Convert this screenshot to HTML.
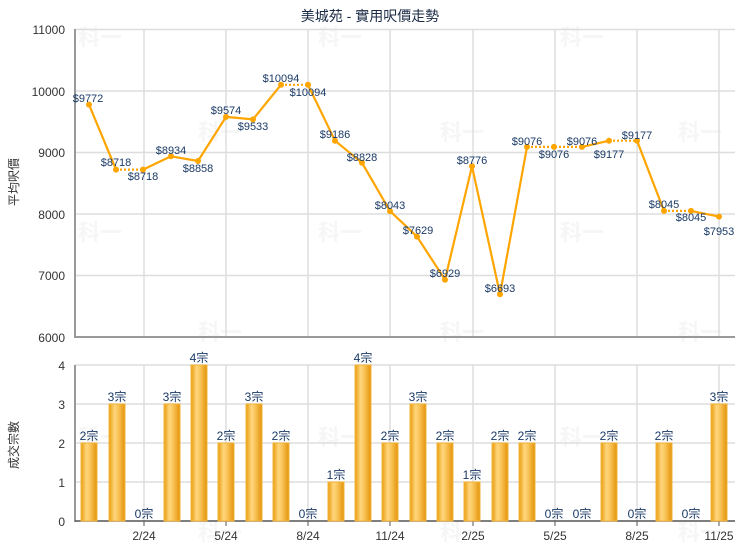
<!DOCTYPE html>
<html><head><meta charset="utf-8"><style>
body{margin:0;background:#fff}
svg{display:block;font-family:"Liberation Sans","Noto Sans CJK TC",sans-serif}
</style></head><body>
<svg width="740" height="550" viewBox="0 0 740 550" xmlns="http://www.w3.org/2000/svg">
<defs>
<linearGradient id="bg" x1="0" x2="1" y1="0" y2="0">
<stop offset="0" stop-color="#e99b0c"/>
<stop offset="0.35" stop-color="#ffd77e"/>
<stop offset="0.6" stop-color="#f8c254"/>
<stop offset="1" stop-color="#e3930a"/>
</linearGradient>
</defs>
<rect width="740" height="550" fill="#fff"/>
<text x="370" y="21" text-anchor="middle" font-size="14" fill="#1a2a45">美城苑 - 實用呎價走勢</text>
<!-- watermarks -->
<g font-size="22" font-weight="bold" fill="#f6f6f6" text-anchor="middle">
<text x="100" y="45">科一</text><text x="340" y="45">科一</text><text x="582" y="45">科一</text>
<text x="220" y="140">科一</text><text x="462" y="140">科一</text><text x="700" y="140">科一</text>
<text x="100" y="240">科一</text><text x="340" y="240">科一</text><text x="582" y="240">科一</text>
<text x="220" y="340">科一</text><text x="462" y="340">科一</text><text x="700" y="340">科一</text>
<text x="100" y="445">科一</text><text x="340" y="445">科一</text><text x="582" y="445">科一</text>
<text x="220" y="540">科一</text><text x="462" y="540">科一</text><text x="700" y="540">科一</text>
</g>
<!-- top grid -->
<g stroke="#dddddd" stroke-width="1.5">
<line x1="75" y1="29.5" x2="735" y2="29.5"/>
<line x1="75" y1="91" x2="735" y2="91"/>
<line x1="75" y1="152.5" x2="735" y2="152.5"/>
<line x1="75" y1="214" x2="735" y2="214"/>
<line x1="75" y1="275.5" x2="735" y2="275.5"/>
<line x1="144" y1="29" x2="144" y2="337"/>
<line x1="226" y1="29" x2="226" y2="337"/>
<line x1="308" y1="29" x2="308" y2="337"/>
<line x1="390" y1="29" x2="390" y2="337"/>
<line x1="473" y1="29" x2="473" y2="337"/>
<line x1="555" y1="29" x2="555" y2="337"/>
<line x1="637" y1="29" x2="637" y2="337"/>
<line x1="719" y1="29" x2="719" y2="337"/>
<line x1="144" y1="365" x2="144" y2="521"/>
<line x1="226" y1="365" x2="226" y2="521"/>
<line x1="308" y1="365" x2="308" y2="521"/>
<line x1="390" y1="365" x2="390" y2="521"/>
<line x1="473" y1="365" x2="473" y2="521"/>
<line x1="555" y1="365" x2="555" y2="521"/>
<line x1="637" y1="365" x2="637" y2="521"/>
<line x1="719" y1="365" x2="719" y2="521"/>
<line x1="75" y1="365" x2="735" y2="365"/>
<line x1="75" y1="404" x2="735" y2="404"/>
<line x1="75" y1="443" x2="735" y2="443"/>
<line x1="75" y1="482" x2="735" y2="482"/>
</g>
<g stroke="#999" stroke-width="2">
<line x1="75" y1="29" x2="75" y2="338"/>
<line x1="75" y1="337" x2="735" y2="337"/>
<line x1="75" y1="365" x2="75" y2="522"/>
</g>
<line x1="75" y1="521" x2="735" y2="521" stroke="#555" stroke-width="1.5"/>
<g stroke="#555" stroke-width="1">
<line x1="144" y1="521" x2="144" y2="526"/><line x1="226" y1="521" x2="226" y2="526"/>
<line x1="308" y1="521" x2="308" y2="526"/><line x1="390" y1="521" x2="390" y2="526"/>
<line x1="473" y1="521" x2="473" y2="526"/><line x1="555" y1="521" x2="555" y2="526"/>
<line x1="637" y1="521" x2="637" y2="526"/><line x1="719" y1="521" x2="719" y2="526"/>
</g>
<!-- y labels -->
<g font-size="12" fill="#333" text-anchor="end">
<text x="65" y="34">11000</text><text x="65" y="96">10000</text><text x="65" y="157">9000</text>
<text x="65" y="219">8000</text><text x="65" y="280">7000</text><text x="65" y="342">6000</text>
<text x="65" y="370">4</text><text x="65" y="409">3</text><text x="65" y="448">2</text>
<text x="65" y="487">1</text><text x="65" y="526">0</text>
</g>
<g font-size="12" fill="#333" text-anchor="middle">
<text x="144" y="540">2/24</text><text x="226" y="540">5/24</text><text x="308" y="540">8/24</text>
<text x="390" y="540">11/24</text><text x="473" y="540">2/25</text><text x="555" y="540">5/25</text>
<text x="637" y="540">8/25</text><text x="719" y="540">11/25</text>
</g>
<text transform="translate(18,182) rotate(-90)" font-size="12" fill="#333" text-anchor="middle">平均呎價</text>
<text transform="translate(18,445) rotate(-90)" font-size="12" fill="#333" text-anchor="middle">成交宗數</text>
<!-- bars -->
<g fill="url(#bg)" stroke="#f3b43a" stroke-width="1">
<rect x="81" y="443" width="16" height="78"/>
<rect x="109" y="404" width="16" height="117"/>
<rect x="164" y="404" width="16" height="117"/>
<rect x="191" y="365" width="16" height="156"/>
<rect x="218" y="443" width="16" height="78"/>
<rect x="246" y="404" width="16" height="117"/>
<rect x="273" y="443" width="16" height="78"/>
<rect x="328" y="482" width="16" height="39"/>
<rect x="355" y="365" width="16" height="156"/>
<rect x="382" y="443" width="16" height="78"/>
<rect x="410" y="404" width="16" height="117"/>
<rect x="437" y="443" width="16" height="78"/>
<rect x="464" y="482" width="16" height="39"/>
<rect x="492" y="443" width="16" height="78"/>
<rect x="519" y="443" width="16" height="78"/>
<rect x="601" y="443" width="16" height="78"/>
<rect x="656" y="443" width="16" height="78"/>
<rect x="711" y="404" width="16" height="117"/>
</g>
<g font-size="12" fill="#1a3a66" text-anchor="middle">
<text x="89" y="440">2宗</text><text x="117" y="401">3宗</text><text x="144" y="518">0宗</text>
<text x="172" y="401">3宗</text><text x="199" y="362">4宗</text><text x="226" y="440">2宗</text>
<text x="254" y="401">3宗</text><text x="281" y="440">2宗</text><text x="308" y="518">0宗</text>
<text x="336" y="479">1宗</text><text x="363" y="362">4宗</text><text x="390" y="440">2宗</text>
<text x="418" y="401">3宗</text><text x="445" y="440">2宗</text><text x="472" y="479">1宗</text>
<text x="500" y="440">2宗</text><text x="527" y="440">2宗</text><text x="554" y="518">0宗</text>
<text x="582" y="518">0宗</text><text x="609" y="440">2宗</text><text x="637" y="518">0宗</text>
<text x="664" y="440">2宗</text><text x="691" y="518">0宗</text><text x="719" y="401">3宗</text>
</g>
<!-- line -->
<g fill="none" stroke="#ffa500" stroke-width="2.2" stroke-linejoin="round">
<polyline points="89,104.6 116,169.6"/>
<polyline points="143,169.6 171,156.3 198,161 226,116.9 253,119.4 281,84.8"/>
<polyline points="308,84.8 335,140.7 362,162.8 390,211.1 417,236.6 445,279.7 472,166.3 500,294.2 527,146.9"/>
<polyline points="582,146.9 609,140.7"/>
<polyline points="637,140.7 664,210.9"/>
<polyline points="691,210.9 719,216.6"/>
</g>
<g fill="none" stroke="#ffa500" stroke-width="2.2" stroke-dasharray="2,2">
<line x1="116" y1="169.6" x2="143" y2="169.6"/>
<line x1="281" y1="84.8" x2="308" y2="84.8"/>
<line x1="527" y1="146.9" x2="582" y2="146.9"/>
<line x1="609" y1="140.7" x2="637" y2="140.7"/>
<line x1="664" y1="210.9" x2="691" y2="210.9"/>
</g>
<g fill="#ffa500">
<circle cx="89" cy="104.6" r="3"/><circle cx="116" cy="169.6" r="3"/><circle cx="143" cy="169.6" r="3"/>
<circle cx="171" cy="156.3" r="3"/><circle cx="198" cy="161" r="3"/><circle cx="226" cy="116.9" r="3"/>
<circle cx="253" cy="119.4" r="3"/><circle cx="281" cy="84.8" r="3"/><circle cx="308" cy="84.8" r="3"/>
<circle cx="335" cy="140.7" r="3"/><circle cx="362" cy="162.8" r="3"/><circle cx="390" cy="211.1" r="3"/>
<circle cx="417" cy="236.6" r="3"/><circle cx="445" cy="279.7" r="3"/><circle cx="472" cy="166.3" r="3"/>
<circle cx="500" cy="294.2" r="3"/><circle cx="527" cy="146.9" r="3"/><circle cx="554" cy="146.9" r="3"/>
<circle cx="582" cy="146.9" r="3"/><circle cx="609" cy="140.7" r="3"/><circle cx="637" cy="140.7" r="3"/>
<circle cx="664" cy="210.9" r="3"/><circle cx="691" cy="210.9" r="3"/><circle cx="719" cy="216.6" r="3"/>
</g>
<g font-size="11" fill="#1a3a66" text-anchor="middle">
<text x="88" y="102">$9772</text><text x="116" y="166">$8718</text><text x="143" y="180">$8718</text>
<text x="171" y="154">$8934</text><text x="198" y="172">$8858</text><text x="226" y="114">$9574</text>
<text x="253" y="130">$9533</text><text x="281" y="82">$10094</text><text x="308" y="96">$10094</text>
<text x="335" y="138">$9186</text><text x="362" y="161">$8828</text><text x="390" y="209">$8043</text>
<text x="418" y="234">$7629</text><text x="445" y="277">$6929</text><text x="472" y="164">$8776</text>
<text x="500" y="292">$6693</text><text x="527" y="145">$9076</text><text x="554" y="158">$9076</text>
<text x="582" y="145">$9076</text><text x="609" y="158">$9177</text><text x="637" y="139">$9177</text>
<text x="664" y="208">$8045</text><text x="691" y="221">$8045</text><text x="719" y="235">$7953</text>
</g>
</svg>
</body></html>
